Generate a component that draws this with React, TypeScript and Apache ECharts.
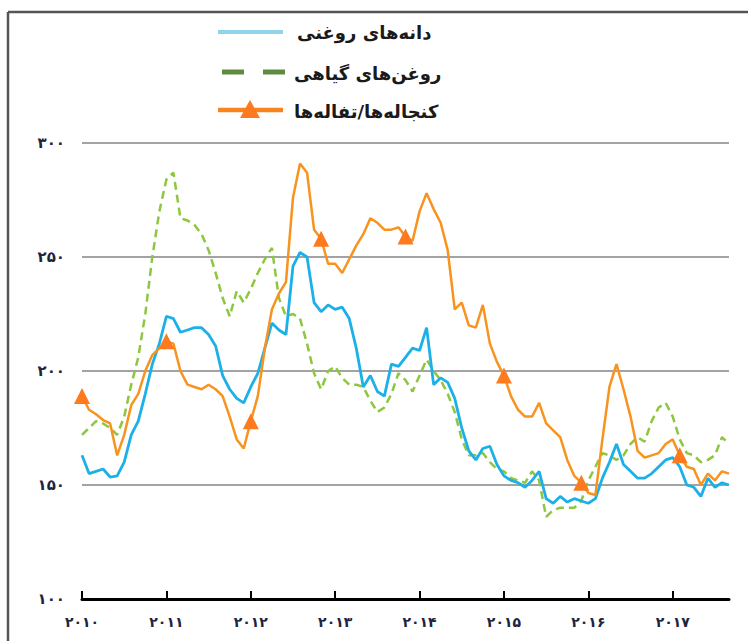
import React, { useEffect, useRef } from 'react';
import * as echarts from 'echarts';

const START_YEAR = 2010;
const YEAR_LABELS = ['۲۰۱۰', '۲۰۱۱', '۲۰۱۲', '۲۰۱۳', '۲۰۱۴', '۲۰۱۵', '۲۰۱۶', '۲۰۱۷'];
const SERIES_NAMES = [
  'دانه\u200cهای روغنی',
  'روغن\u200cهای گیاهی',
  'کنجاله\u200cها/تفاله\u200cها',
];

// Monthly values, Jan 2010 .. Sep 2017
const OILSEEDS = [
  163, 155, 156, 157, 153.5, 154, 160, 172, 178, 190, 203, 212,
  224, 223, 217, 218, 219, 219, 216, 211, 198, 192, 188, 186,
  193, 199, 210, 221, 218, 216, 246, 252, 250, 230, 226, 229,
  227, 228, 223, 210, 193, 198, 191, 189, 203, 202, 206, 210,
  209, 219, 194, 197, 195, 188, 175, 165, 161, 166, 167, 159,
  154, 152, 151, 149, 152, 156, 144, 142, 145, 142.5, 144, 143,
  142, 144, 153, 160, 168, 159, 156, 153, 153, 155, 158, 161,
  162, 158, 150, 149, 145, 153, 149, 151, 150,
];

const VEG_OILS = [
  172, 175, 178, 177, 175, 172, 180, 194, 206, 225, 250, 270,
  284, 287, 267, 266, 264, 260, 253, 243, 232, 224, 235, 230,
  236, 243, 249, 254, 232, 224, 225, 223, 212, 199, 192, 200,
  202, 197, 194, 194, 193, 187, 182, 184, 190, 199, 196, 191,
  198, 205, 200, 196, 190, 182, 170, 163, 163, 164, 160, 157,
  156, 153, 152, 151, 156, 152, 136, 139, 140, 140, 140, 143,
  152, 158, 164, 163, 161, 163, 168, 171, 169, 178, 184, 186,
  180, 170, 164, 163, 160, 161, 163, 171, 168,
];

const MEALS = [
  189, 183, 181, 178.5, 177, 163, 172, 185, 190, 200, 207, 210,
  213, 212, 200, 194, 193, 192, 194, 192, 189, 180, 170, 166,
  178, 189, 210, 227, 234, 239, 276, 291, 287, 262, 258, 247,
  247, 243, 249, 255, 260, 267, 265, 262, 262, 263, 259, 257,
  270, 278, 271, 265, 253, 227, 230, 220, 219, 229, 212, 204,
  198, 189, 183, 180, 180, 186, 177, 174, 171, 161, 154, 151,
  146.5, 145.6, 170, 193, 203, 192, 180, 165, 162, 163, 164, 168,
  170, 163, 158, 157, 150, 155, 152, 156, 155,
];

// Months (indices) where the meals series carries a triangle marker
const MEAL_MARKERS = [0, 12, 24, 34, 46, 60, 71, 85];

const FA_DIGITS = ['۰', '۱', '۲', '۳', '۴', '۵', '۶', '۷', '۸', '۹'];
const toFa = (v: number | string) =>
  String(v).replace(/[0-9]/g, (d) => FA_DIGITS[Number(d)]);

const FONT = 'DejaVu Sans';

export default function App() {
  const ref = useRef<HTMLDivElement>(null);

  useEffect(() => {
    const chart = echarts.init(ref.current!, undefined, { renderer: 'svg' });
    const months = OILSEEDS.map(
      (_, i) => `${START_YEAR + Math.floor(i / 12)}-${String((i % 12) + 1).padStart(2, '0')}`
    );
    const mealData = MEALS.map((v, i) =>
      MEAL_MARKERS.includes(i)
        ? { value: v, symbol: 'triangle', symbolSize: 16 }
        : { value: v, symbol: 'none' }
    );
    const isYearStart = (i: number) => i % 12 === 0;

    chart.setOption({
      animation: false,
      backgroundColor: '#ffffff',
      grid: { left: 82, right: 19, top: 143, bottom: 42 },
      xAxis: {
        type: 'category',
        data: months,
        boundaryGap: false,
        axisLine: { lineStyle: { color: '#000', width: 3 } },
        axisTick: {
          inside: true,
          length: 8,
          interval: isYearStart,
          lineStyle: { color: '#000', width: 2 },
        },
        axisLabel: {
          interval: isYearStart,
          formatter: (_v: string, i: number) => YEAR_LABELS[Math.floor(i / 12)],
          margin: 16,
          fontSize: 14,
          fontWeight: 'bold',
          color: '#1d2440',
          fontFamily: FONT,
        },
        splitLine: { show: false },
      },
      yAxis: {
        type: 'value',
        min: 100,
        max: 300,
        interval: 50,
        axisLine: { show: false },
        axisTick: { show: false },
        axisLabel: {
          formatter: (v: number) => toFa(v),
          margin: 17,
          fontSize: 15,
          fontWeight: 'bold',
          color: '#1d2440',
          fontFamily: FONT,
        },
        splitLine: { lineStyle: { color: '#a3a3a3', width: 2 } },
      },
      series: [
        {
          name: SERIES_NAMES[1],
          type: 'line',
          data: VEG_OILS,
          symbol: 'none',
          lineStyle: { color: '#8dc63f', width: 2.5, type: [8, 5] },
          itemStyle: { color: '#8dc63f' },
          z: 2,
        },
        {
          name: SERIES_NAMES[0],
          type: 'line',
          data: OILSEEDS,
          symbol: 'none',
          lineStyle: { color: '#1cb0e8', width: 2.8 },
          itemStyle: { color: '#1cb0e8' },
          z: 3,
        },
        {
          name: SERIES_NAMES[2],
          type: 'line',
          data: mealData,
          symbol: 'triangle',
          symbolSize: 16,
          showAllSymbol: true,
          lineStyle: { color: '#f7931e', width: 2.5 },
          itemStyle: { color: '#fd7a1e' },
          z: 4,
        },
      ],
      graphic: [
        // frame
        { type: 'line', shape: { x1: 8, y1: 12, x2: 748, y2: 12 }, style: { stroke: '#555', lineWidth: 2.5 } },
        { type: 'line', shape: { x1: 8, y1: 12, x2: 8, y2: 641 }, style: { stroke: '#555', lineWidth: 2.5 } },
        // legend item 1
        { type: 'line', shape: { x1: 218, y1: 32, x2: 283, y2: 32 }, style: { stroke: '#8fd4ee', lineWidth: 4 } },
        {
          type: 'text', x: 297, y: 32,
          style: { text: SERIES_NAMES[0], fontSize: 18, fontWeight: 'bold', fontFamily: FONT, fill: '#1a1a1a', align: 'left', verticalAlign: 'middle' },
        },
        // legend item 2
        { type: 'line', shape: { x1: 222, y1: 72, x2: 244, y2: 72 }, style: { stroke: '#5e8b3e', lineWidth: 5 } },
        { type: 'line', shape: { x1: 263, y1: 72, x2: 285, y2: 72 }, style: { stroke: '#5e8b3e', lineWidth: 5 } },
        {
          type: 'text', x: 294, y: 73,
          style: { text: SERIES_NAMES[1], fontSize: 18, fontWeight: 'bold', fontFamily: FONT, fill: '#1a1a1a', align: 'left', verticalAlign: 'middle' },
        },
        // legend item 3
        { type: 'line', shape: { x1: 218, y1: 110, x2: 283, y2: 110 }, style: { stroke: '#f7841e', lineWidth: 4.5 } },
        { type: 'polygon', shape: { points: [[250, 100], [240, 118], [260, 118]] }, style: { fill: '#fd7a1e' } },
        {
          type: 'text', x: 294, y: 111,
          style: { text: SERIES_NAMES[2], fontSize: 18, fontWeight: 'bold', fontFamily: FONT, fill: '#1a1a1a', align: 'left', verticalAlign: 'middle' },
        },
      ],
    });

    return () => chart.dispose();
  }, []);

  return (
    <div
      ref={ref}
      style={{ position: 'fixed', left: 0, top: 0, width: 748, height: 641, background: '#fff' }}
    />
  );
}
